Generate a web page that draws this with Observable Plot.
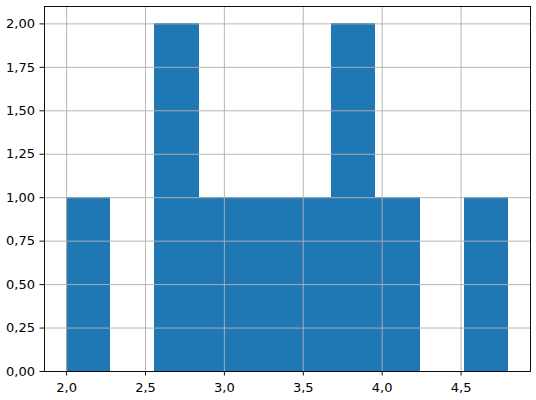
<!DOCTYPE html>
<html>
<head>
<meta charset="utf-8">
<script src="https://cdn.jsdelivr.net/npm/d3@7"></script>
<script src="https://cdn.jsdelivr.net/npm/@observablehq/plot@0.6"></script>
<style>
  html, body { margin: 0; padding: 0; background: #fff; }
  #chart svg { display: block; }
</style>
</head>
<body>
<div id="chart"></div>
<script>
const binEdges = [2.0, 2.28, 2.56, 2.84, 3.12, 3.40, 3.68, 3.96, 4.24, 4.52, 4.80];
const counts = [1, 0, 2, 1, 1, 1, 2, 1, 0, 1];
const xTicks = [2.0, 2.5, 3.0, 3.5, 4.0, 4.5];
const yTicks = [0, 0.25, 0.5, 0.75, 1.0, 1.25, 1.5, 1.75, 2.0];

const bins = counts.map((c, i) => ({x1: binEdges[i], x2: binEdges[i + 1], count: c}));
const comma = (d, digits) => d.toFixed(digits).replace(".", ",");
const grid = {stroke: "#b0b0b0", strokeOpacity: 1, strokeWidth: 0.93};

const chart = Plot.plot({
  width: 536,
  height: 400,
  marginLeft: 44,
  marginRight: 6,
  marginTop: 6,
  marginBottom: 29,
  style: {fontFamily: "DejaVu Sans", fontSize: "13px", color: "#000", background: "#fff"},
  x: {domain: [1.86, 4.94]},
  y: {domain: [0, 2.1]},
  marks: [
    Plot.rectY(bins, {x1: "x1", x2: "x2", y: "count", fill: "#1f77b4", inset: 0, shapeRendering: "crispEdges"}),
    Plot.gridX(xTicks, grid),
    Plot.gridY(yTicks, grid),
    Plot.axisX(xTicks, {tickSize: 4.5, tickPadding: 7, tickFormat: d => comma(d, 1), fontSize: 13, label: null, strokeWidth: 0.93}),
    Plot.axisY(yTicks, {tickSize: 4.5, tickPadding: 5, tickFormat: d => comma(d, 2), fontSize: 13, label: null, strokeWidth: 0.93}),
    Plot.frame({stroke: "#000", strokeWidth: 0.93})
  ]
});
document.getElementById("chart").appendChild(chart);
</script>
</body>
</html>
